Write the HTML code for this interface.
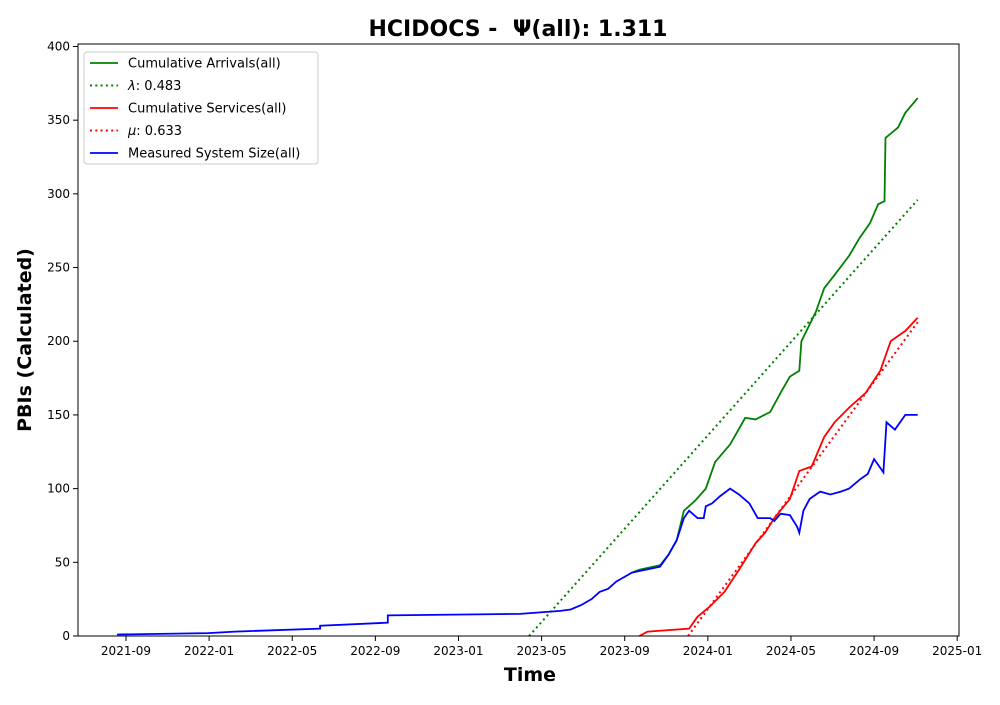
<!DOCTYPE html>
<html><head><meta charset="utf-8"><style>
body{margin:0;background:#fff;font-family:"Liberation Sans","DejaVu Sans",sans-serif}
svg text{font-family:"DejaVu Sans","Liberation Sans",sans-serif}
</style></head><body>
<svg id="c" width="1000" height="700" xmlns="http://www.w3.org/2000/svg">
<rect width="1000" height="700" fill="#fff"/>
<text x="518" y="36" text-anchor="middle" font-size="22" font-weight="bold">HCIDOCS -&#160; Ψ(all): 1.311</text>
<text x="530" y="681" text-anchor="middle" font-size="19" font-weight="bold">Time</text>
<text transform="translate(31,340) rotate(-90)" text-anchor="middle" font-size="19" font-weight="bold">PBIs (Calculated)</text>
<g id="plot"></g>
<rect x="78" y="44" width="881" height="592" fill="none" stroke="#000" stroke-width="1"/>
<g id="legend">
<rect x="84" y="52" width="234" height="112" rx="3" fill="#fff" fill-opacity="0.8" stroke="#ccc"/>
</g>
</svg>
<script>
// months since 2021-09
const xTickVals=[0,4,8,12,16,20,24,28,32,36,40];
const xTickLabels=["2021-09","2022-01","2022-05","2022-09","2023-01","2023-05","2023-09","2024-01","2024-05","2024-09","2025-01"];
const yTickVals=[0,50,100,150,200,250,300,350,400];
const sysT=[-0.43,3.95,5.25,9.34,9.34,12.6,12.6,18.96,20.9,21.4,21.9,22.4,22.8,23.2,23.6,24.35,25.7,26.1,26.5,26.85,27.1,27.5,27.8,27.9,28.2,28.6,29.07,29.5,30.0,30.4,31.0,31.2,31.5,31.95,32.3,32.4,32.6,32.9,33.4,33.9,34.4,34.8,35.3,35.7,36.0,36.4,36.45,36.6,37.0,37.5,38.1];
const sysV=[1,2,3,5,7,9,14,15,17,18,21,25,30,32,37,43,47,55,65,80,85,80,80,88,90,95,100,96,90,80,80,78,83,82,74,70,85,93,98,96,98,100,106,110,120,112,111,145,140,150,150];
const arrT=[24.35,24.7,25.7,26.1,26.5,26.85,27.4,27.9,28.35,29.07,29.8,30.3,31.0,31.5,31.95,32.4,32.5,33.2,33.6,34.1,34.8,35.3,35.8,36.2,36.5,36.55,37.15,37.5,38.1];
const arrV=[43,45,48,55,65,85,92,100,118,130,148,147,152,165,176,180,200,220,236,245,258,270,280,293,295,338,345,355,365];
const srvT=[24.7,25.1,27.1,27.5,28.1,28.8,29.5,30.3,30.75,31.2,31.95,32.4,33.0,33.6,34.1,34.8,35.6,36.3,36.8,37.5,38.1];
const srvV=[0,3,5,13,20,30,45,63,70,80,93,112,115,135,145,155,165,180,200,207,216];
const lamT=[19.4,38.1], lamV=[0,296];
const muT=[27.05,38.1], muV=[0,213];
const X0=78,X1=959,Y0=636,Y1=44;
const xs=t=>126+t*20.78;
const ys=v=>636-v*1.4738;
const NS="http://www.w3.org/2000/svg";
const svg=document.getElementById('c'),plot=document.getElementById('plot');
function mk(tag,attrs,parent){const e=document.createElementNS(NS,tag);for(const k in attrs)e.setAttribute(k,attrs[k]);(parent||svg).appendChild(e);return e;}
xTickVals.forEach((t,i)=>{const x=xs(t);
 const l=mk('line',{x1:x,x2:x,y1:Y0,y2:Y0+5,stroke:'#000'});
 
 
 const tx=mk('text',{x:x,y:Y0+19,'text-anchor':'middle','font-size':12});tx.textContent=xTickLabels[i];
 
 
});
yTickVals.forEach(v=>{const y=ys(v);
 const l=mk('line',{x1:X0-5,x2:X0,y1:y,y2:y,stroke:'#000'});
 
 
 const tx=mk('text',{x:X0-8,y:y+4,'text-anchor':'end','font-size':12});tx.textContent=v;
 
 
});
function line(T,V,color,dash,name){
 const d=T.map((t,i)=>(i?'L':'M')+xs(t).toFixed(1)+','+ys(V[i]).toFixed(1)).join('');
 const p=mk('path',{d:d,fill:'none',stroke:color,'stroke-width':dash?2:1.8},plot);
 if(dash)p.setAttribute('stroke-dasharray','2,3.3');
 
 
}
line(lamT,lamV,'green',true,'lambda-fit-line');
line(muT,muV,'red',true,'mu-fit-line');
line(arrT,arrV,'green',false,'cumulative-arrivals-line');
line(srvT,srvV,'red',false,'cumulative-services-line');
line(sysT,sysV,'blue',false,'system-size-line');
const lg=document.getElementById('legend');
const items=[['green',0,'Cumulative Arrivals(all)','',''],['green',1,'λ',': 0.483'],['red',0,'Cumulative Services(all)',''],['red',1,'μ',': 0.633'],['blue',0,'Measured System Size(all)','']];
items.forEach((it,i)=>{const y=63+i*22.5;
 const l=mk('line',{x1:90,x2:118,y1:y,y2:y,stroke:it[0],'stroke-width':it[1]?2:1.8},lg);
 if(it[1])l.setAttribute('stroke-dasharray','2,3.3');
 const tx=mk('text',{x:128,y:y+4.5,'font-size':13},lg);
 if(it[1]){const s=mk('tspan',{'font-style':'italic'},tx);s.textContent=it[2];const s2=mk('tspan',{},tx);s2.textContent=it[3];}
 else tx.textContent=it[2];
 
 
});
</script>
</body></html>
